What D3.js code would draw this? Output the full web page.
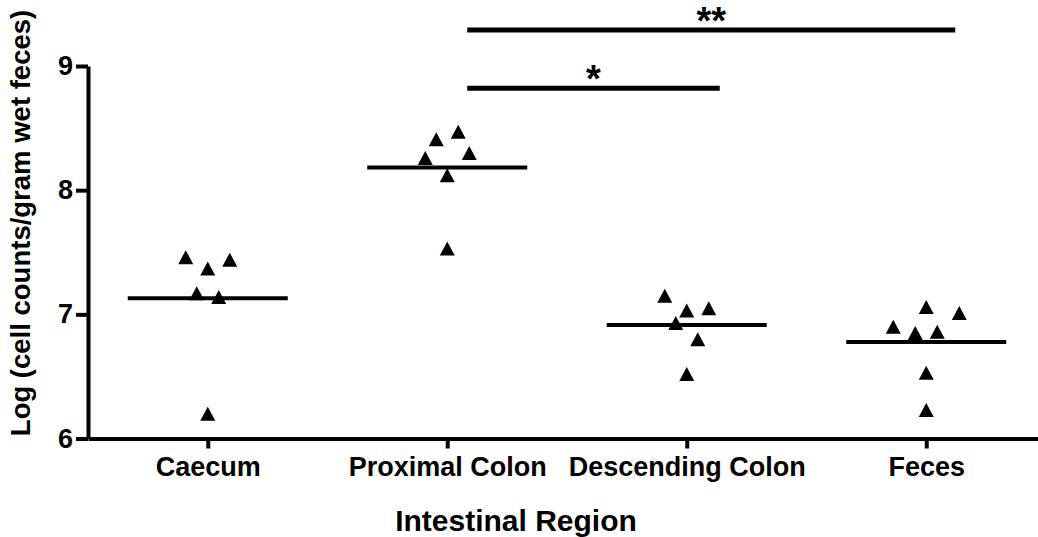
<!DOCTYPE html>
<html>
<head>
<meta charset="utf-8">
<script src="https://cdn.jsdelivr.net/npm/d3@7"></script>
<style>
  body { margin: 0; background: #fff; }
  text { font-family: "Liberation Sans", Arial, sans-serif; font-weight: bold; }
</style>
</head>
<body>
<div id="chart"></div>
<script>
// Data
const regions = ["Caecum", "Proximal Colon", "Descending Colon", "Feces"];
const caecum = [7.46, 7.37, 7.44, 7.17, 7.14, 6.20];
const proximal = [8.26, 8.41, 8.47, 8.30, 8.12, 7.53];
const descending = [7.15, 7.03, 7.05, 6.93, 6.80, 6.52];
const feces = [7.06, 7.01, 6.90, 6.85, 6.86, 6.53, 6.23];
// column scatter slot of each point (left/right of the column centre)
const caecumSlots = [-2, 0, 2, -1, 1, 0];
const proximalSlots = [-2, -1, 1, 2, 0, 0];
const descendingSlots = [-2, 0, 2, -1, 1, 0];
const fecesSlots = [0, 3, -3, -1, 1, 0, 0];
const yTicks = [6, 7, 8, 9];
// significance brackets
const comparisons = [
    { from: "Proximal Colon", to: "Descending Colon", label: "*", level: 8.82 },
    { from: "Proximal Colon", to: "Feces", label: "**", level: 9.29 }
];

const groups = [caecum, proximal, descending, feces];
const slots = [caecumSlots, proximalSlots, descendingSlots, fecesSlots];
const points = [];
groups.forEach((vals, gi) => {
    vals.forEach((v, i) => points.push({ region: regions[gi], value: v, slot: slots[gi][i] }));
});

// Setup dimensions
const W = 1038, H = 537;
const margin = { top: 66, left: 88 };
const width = 958;
const height = 372.5;

const svg = d3.select("#chart")
    .append("svg")
    .attr("width", W)
    .attr("height", H)
    .append("g")
    .attr("transform", `translate(${margin.left},${margin.top})`);

const x = d3.scalePoint()
    .domain(regions)
    .range([0, width])
    .padding(0.5);

const y = d3.scaleLinear()
    .domain([6, 9])
    .range([height, 0]);

const slotStep = 11;
const meanHalf = 80;

// Axes
const xAxis = svg.append("g")
    .attr("transform", `translate(0,${height})`)
    .call(d3.axisBottom(x).tickSize(10).tickSizeOuter(0).tickPadding(8));

const yAxis = svg.append("g")
    .call(d3.axisLeft(y).tickValues(yTicks).tickFormat(d3.format("d"))
        .tickSize(12).tickSizeOuter(0).tickPadding(3));

[xAxis, yAxis].forEach(a => {
    a.select(".domain").attr("stroke", "#000").attr("stroke-width", 4);
    a.selectAll(".tick line").attr("stroke", "#000").attr("stroke-width", 4);
    a.selectAll(".tick text")
        .attr("fill", "#000")
        .style("font-size", "27px");
});

// Mean lines
svg.selectAll(".mean")
    .data(groups)
    .enter()
    .append("line")
    .attr("class", "mean")
    .attr("x1", (d, i) => x(regions[i]) - meanHalf)
    .attr("x2", (d, i) => x(regions[i]) + meanHalf)
    .attr("y1", d => y(d3.mean(d)))
    .attr("y2", d => y(d3.mean(d)))
    .attr("stroke", "#000")
    .attr("stroke-width", 4);

// Triangles
const tw = 15, th = 14;
svg.selectAll(".pt")
    .data(points)
    .enter()
    .append("path")
    .attr("class", "pt")
    .attr("transform", d => `translate(${x(d.region) + d.slot * slotStep},${y(d.value)})`)
    .attr("d", `M${-tw / 2},${th / 2}L0,${-th / 2}L${tw / 2},${th / 2}Z`)
    .attr("fill", "#000");

// Significance brackets
const bracketStart = 20;
comparisons.forEach(c => {
    const x1 = x(c.from) + bracketStart;
    const x2 = x(c.to) + (c.to === "Feces" ? 29 : 33);
    svg.append("line")
        .attr("x1", x1)
        .attr("x2", x2)
        .attr("y1", y(c.level))
        .attr("y2", y(c.level))
        .attr("stroke", "#000")
        .attr("stroke-width", 5);
    svg.append("text")
        .attr("x", (x1 + x2) / 2)
        .attr("y", y(c.level) + 4)
        .attr("text-anchor", "middle")
        .style("font-size", "38px")
        .text(c.label);
});

// Axis labels
svg.append("text")
    .attr("text-anchor", "middle")
    .attr("x", 516 - margin.left)
    .attr("y", 531 - margin.top)
    .style("font-size", "30px")
    .text("Intestinal Region");

svg.append("text")
    .attr("text-anchor", "middle")
    .attr("transform", "rotate(-90)")
    .attr("x", -(223 - margin.top))
    .attr("y", 30 - margin.left)
    .style("font-size", "27.5px")
    .text("Log (cell counts/gram wet feces)");
</script>
</body>
</html>
